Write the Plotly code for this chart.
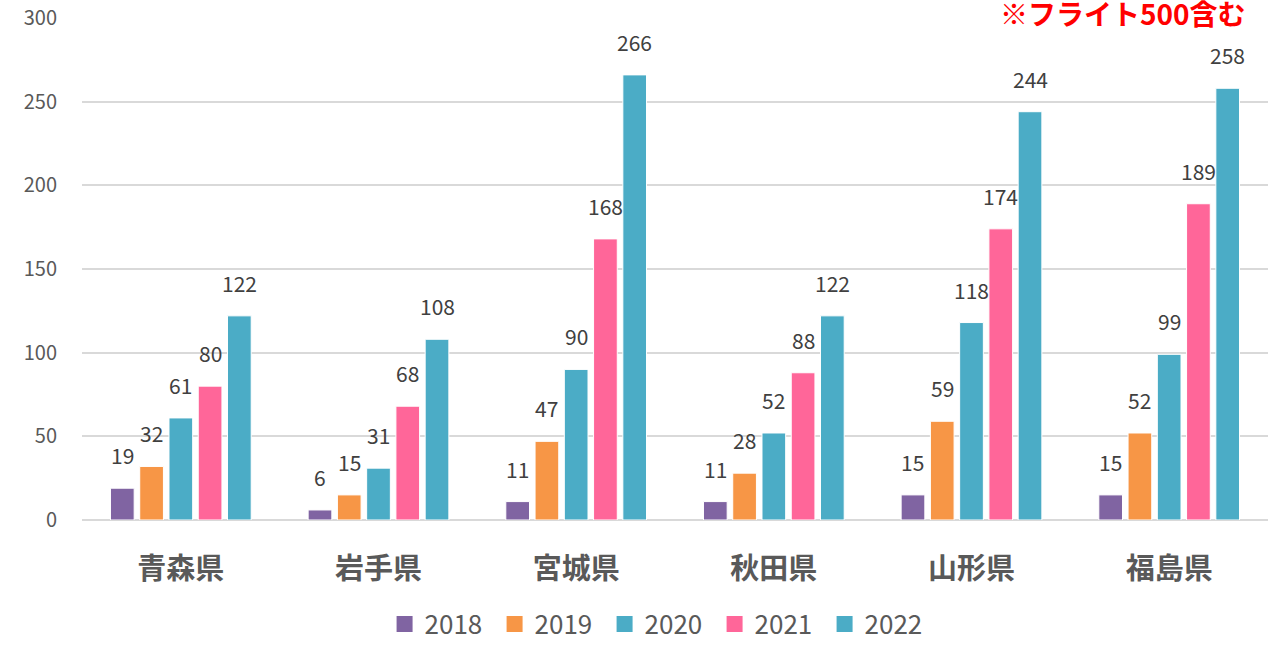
import plotly.graph_objects as go

categories = ["青森県", "岩手県", "宮城県", "秋田県", "山形県", "福島県"]
years = ["2018", "2019", "2020", "2021", "2022"]
v2018 = [19, 6, 11, 11, 15, 15]
v2019 = [32, 15, 47, 28, 59, 52]
v2020 = [61, 31, 90, 52, 118, 99]
v2021 = [80, 68, 168, 88, 174, 189]
v2022 = [122, 108, 266, 122, 244, 258]
series = [v2018, v2019, v2020, v2021, v2022]
colors = ["#8064A2", "#F79646", "#4BACC6", "#FF6699", "#4BACC6"]

FONT = "Noto Sans CJK JP, Meiryo, sans-serif"
W, H = 1272, 646
ML, MR, MT, MB = 82, 4, 18, 126
BARGAP = 0.26

fig = go.Figure()
for name, vals, col in zip(years, series, colors):
    fig.add_trace(go.Bar(
        x=categories, y=vals, name=name, showlegend=False,
        marker=dict(color=col, line=dict(color="white", width=1)),
    ))
# legend entries with larger square swatches
for name, col in zip(years, colors):
    fig.add_trace(go.Scatter(x=[None], y=[None], mode="markers", name=name,
                             marker=dict(symbol="square", size=17, color=col)))

# data labels placed above each bar (positions from axis data + group offset)
cat_px = (W - ML - MR) / len(categories)
slot = cat_px * (1 - BARGAP) / len(series)
for i, vals in enumerate(series):
    for c, v in zip(categories, vals):
        fig.add_annotation(x=c, y=v, text=str(v), showarrow=False,
                           xanchor="center", yanchor="bottom",
                           xshift=(i - (len(series) - 1) / 2) * slot, yshift=16,
                           font=dict(size=21, color="#404040", family=FONT))

fig.update_layout(
    width=W, height=H,
    margin=dict(l=ML, r=MR, t=MT, b=MB, autoexpand=False),
    paper_bgcolor="white", plot_bgcolor="white",
    barmode="group", bargap=BARGAP, bargroupgap=0.19,
    font=dict(family=FONT, color="#595959"),
    legend=dict(orientation="h", x=0.487, xanchor="center", yref="container", y=0.034,
                yanchor="middle", font=dict(size=26, color="#595959"),
                traceorder="normal", itemwidth=30, tracegroupgap=0,
                entrywidth=65, entrywidthmode="pixels"),
    showlegend=True,
)
fig.update_yaxes(range=[0, 300], dtick=50, showgrid=True, gridcolor="#D9D9D9", gridwidth=2,
                 zeroline=True, zerolinecolor="#D9D9D9", zerolinewidth=2,
                 tickfont=dict(size=20, color="#595959"), ticklabelstandoff=24, showline=False)
fig.update_xaxes(tickfont=dict(size=29, color="#595959", family=FONT, weight="bold"),
                 ticklabelstandoff=29, showline=False, showgrid=False)

fig.add_annotation(text="<b>※フライト500含む</b>", xref="paper", yref="paper", x=0.983, y=1,
                   xanchor="right", yanchor="bottom", yshift=-17, showarrow=False,
                   font=dict(size=28, color="#FF0000", family=FONT))

fig.write_html("out.html")
